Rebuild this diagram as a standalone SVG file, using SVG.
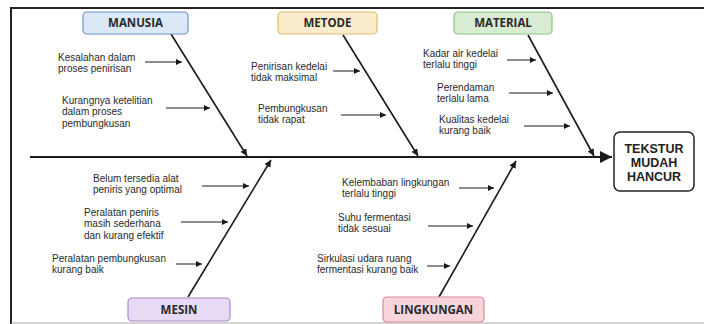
<svg xmlns="http://www.w3.org/2000/svg" width="704" height="324" viewBox="0 0 704 324">
<style>
.t{font-family:"Liberation Sans",Arial,sans-serif;font-size:10px;fill:#2a2a2a;}
.c{font-family:"Open Sans","Liberation Sans",sans-serif;font-size:11.5px;font-weight:bold;fill:#2a2a2a;text-anchor:middle;}
.h{font-family:"Liberation Sans",Arial,sans-serif;font-size:12.5px;font-weight:bold;fill:#222;text-anchor:middle;}
.s{stroke:#1a1a1a;stroke-width:1;fill:none;marker-end:url(#sa);}
.d{stroke:#1a1a1a;stroke-width:1.6;fill:none;marker-end:url(#da);}
</style>
<defs>
<marker id="sa" viewBox="0 0 10 10" refX="10" refY="5" markerWidth="6" markerHeight="6" markerUnits="userSpaceOnUse" orient="auto"><path d="M0,0 L10,5 L0,10 z" fill="#1a1a1a"/></marker>
<marker id="da" viewBox="0 0 10 10" refX="10" refY="5" markerWidth="7" markerHeight="7" markerUnits="userSpaceOnUse" orient="auto"><path d="M0,0 L10,5 L0,10 z" fill="#1a1a1a"/></marker>
<marker id="ma" viewBox="0 0 10 10" refX="10" refY="5" markerWidth="14" markerHeight="12" markerUnits="userSpaceOnUse" orient="auto"><path d="M0,0 L10,5 L0,10 z" fill="#1a1a1a"/></marker>
</defs>
<rect x="0" y="0" width="704" height="324" fill="#fff"/>
<path d="M11,324 L11,8 L704,8" fill="none" stroke="#222" stroke-width="2"/>
<line x1="11" y1="323" x2="704" y2="323" stroke="#aaa" stroke-width="1"/>
<g id="connectors">
<line x1="30" y1="157" x2="612" y2="157" stroke="#1a1a1a" stroke-width="2.2" marker-end="url(#ma)"/>
<line class="d" x1="171" y1="34" x2="247" y2="156"/>
<line class="d" x1="343" y1="35" x2="418" y2="156"/>
<line class="d" x1="528" y1="35" x2="594" y2="156"/>
<line class="d" x1="188" y1="297" x2="271" y2="160"/>
<line class="d" x1="439" y1="297" x2="516" y2="161"/>
<line class="s" x1="145" y1="62" x2="182" y2="62"/>
<line class="s" x1="166" y1="108" x2="210" y2="108"/>
<line class="s" x1="333" y1="71" x2="360" y2="71"/>
<line class="s" x1="341" y1="115" x2="386" y2="115"/>
<line class="s" x1="507" y1="60" x2="536" y2="60"/>
<line class="s" x1="509" y1="93" x2="553" y2="93"/>
<line class="s" x1="524" y1="126" x2="570" y2="126"/>
<line class="s" x1="202" y1="186" x2="249" y2="186"/>
<line class="s" x1="181" y1="222" x2="228" y2="222"/>
<line class="s" x1="176" y1="264" x2="202" y2="264"/>
<line class="s" x1="459" y1="188" x2="494" y2="188"/>
<line class="s" x1="428" y1="226" x2="473" y2="226"/>
<line class="s" x1="427" y1="266" x2="450" y2="266"/>
</g>
<g id="manusia">
<rect x="83" y="12" width="105" height="22" rx="4" fill="#dbe8f8" stroke="#6f94c4" stroke-width="1.2"/>
<text class="c" x="135.5" y="27">MANUSIA</text>
</g>
<g id="metode">
<rect x="278" y="12" width="99" height="22" rx="4" fill="#fbedcc" stroke="#dcbb70" stroke-width="1.2"/>
<text class="c" x="327.5" y="27">METODE</text>
</g>
<g id="material">
<rect x="454" y="12" width="98" height="22" rx="4" fill="#d8ecd3" stroke="#8fbf88" stroke-width="1.2"/>
<text class="c" x="503" y="27">MATERIAL</text>
</g>
<g id="mesin">
<rect x="128" y="298" width="102" height="23" rx="4" fill="#e7daf4" stroke="#a88cc8" stroke-width="1.2"/>
<text class="c" x="179" y="314">MESIN</text>
</g>
<g id="lingkungan">
<rect x="383" y="297" width="101" height="25" rx="4" fill="#f8d5db" stroke="#d98b97" stroke-width="1.2"/>
<text class="c" x="433.5" y="314">LINGKUNGAN</text>
</g>
<g id="tekstur">
<rect x="614" y="132" width="80" height="59" rx="6" fill="#fff" stroke="#222" stroke-width="1.5"/>
<text class="h" x="654" y="152.5">TEKSTUR</text>
<text class="h" x="654" y="166.6">MUDAH</text>
<text class="h" x="654" y="180.7">HANCUR</text>
</g>
<g id="m1"><text class="t" x="58" y="60.5">Kesalahan dalam</text><text class="t" x="58" y="72">proses penirisan</text></g>
<g id="m2"><text class="t" x="62" y="104">Kurangnya ketelitian</text><text class="t" x="62" y="115.3">dalam proses</text><text class="t" x="62" y="126.6">pembungkusan</text></g>
<g id="me1"><text class="t" x="251" y="70">Penirisan kedelai</text><text class="t" x="251" y="81.3">tidak maksimal</text></g>
<g id="me2"><text class="t" x="258" y="112">Pembungkusan</text><text class="t" x="258" y="123">tidak rapat</text></g>
<g id="ma1"><text class="t" x="423" y="56.5">Kadar air kedelai</text><text class="t" x="423" y="67.8">terlalu tinggi</text></g>
<g id="ma2"><text class="t" x="437" y="91">Perendaman</text><text class="t" x="437" y="102">terlalu lama</text></g>
<g id="ma3"><text class="t" x="439" y="122.5">Kualitas kedelai</text><text class="t" x="439" y="134">kurang baik</text></g>
<g id="ms1"><text class="t" x="93" y="182">Belum tersedia alat</text><text class="t" x="93" y="193.3">peniris yang optimal</text></g>
<g id="ms2"><text class="t" x="84" y="216">Peralatan peniris</text><text class="t" x="84" y="227.3">masih sederhana</text><text class="t" x="84" y="238.6">dan kurang efektif</text></g>
<g id="ms3"><text class="t" x="52" y="262">Peralatan pembungkusan</text><text class="t" x="52" y="273">kurang baik</text></g>
<g id="l1"><text class="t" x="342" y="186">Kelembaban lingkungan</text><text class="t" x="342" y="197">terlalu tinggi</text></g>
<g id="l2"><text class="t" x="338" y="221">Suhu fermentasi</text><text class="t" x="338" y="232.3">tidak sesuai</text></g>
<g id="l3"><text class="t" x="317" y="262">Sirkulasi udara ruang</text><text class="t" x="317" y="273.3">fermentasi kurang baik</text></g>
</svg>
